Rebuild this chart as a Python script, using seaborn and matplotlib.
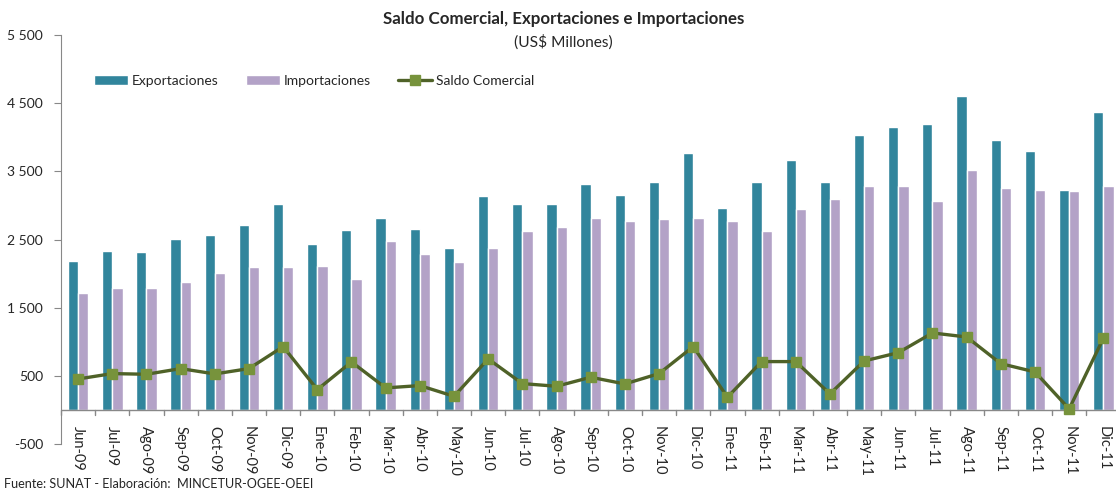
import numpy as np
import pandas as pd
import matplotlib
matplotlib.use("Agg")
import matplotlib.pyplot as plt
import seaborn as sns

# ── Data ────────────────────────────────────────────────────────────────────
MONTHS = ["Jun-09", "Jul-09", "Ago-09", "Sep-09", "Oct-09", "Nov-09", "Dic-09",
          "Ene-10", "Feb-10", "Mar-10", "Abr-10", "May-10", "Jun-10", "Jul-10",
          "Ago-10", "Sep-10", "Oct-10", "Nov-10", "Dic-10", "Ene-11", "Feb-11",
          "Mar-11", "Abr-11", "May-11", "Jun-11", "Jul-11", "Ago-11", "Sep-11",
          "Oct-11", "Nov-11", "Dic-11"]
EXPORTS = [2184, 2335, 2316, 2507, 2566, 2712, 3020, 2434, 2639, 2812, 2658,
           2375, 3131, 3020, 3020, 3308, 3152, 3342, 3763, 2961, 3342, 3665,
           3342, 4027, 4144, 4198, 4598, 3953, 3797, 3229, 4369]
IMPORTS = [1711, 1788, 1788, 1881, 2013, 2091, 2091, 2111, 1920, 2478, 2282,
           2164, 2375, 2624, 2678, 2810, 2775, 2795, 2810, 2775, 2624, 2947,
           3093, 3288, 3288, 3058, 3518, 3249, 3229, 3210, 3288]
SALDO = [454, 533, 523, 606, 528, 606, 929, 298, 704, 323, 357, 200, 748, 386,
         347, 479, 381, 533, 929, 186, 709, 709, 235, 718, 840, 1129, 1070,
         679, 557, 15, 1051]
Y_TICKS = [-500, 500, 1500, 2500, 3500, 4500, 5500]

BLUE, PURPLE = "#31859C", "#B3A2C7"
LINE, MARK = "#4F6228", "#77933C"

df = pd.DataFrame({"Mes": MONTHS * 2,
                   "Valor": EXPORTS + IMPORTS,
                   "Serie": ["Exportaciones"] * len(MONTHS) + ["Importaciones"] * len(MONTHS)})

sns.set_style("white")
plt.rcParams["font.family"] = ["Lato", "DejaVu Sans"]

fig = plt.figure(figsize=(11.16, 4.93), dpi=100)
ax = fig.add_axes([61 / 1116, 49 / 493, 1055 / 1116, 409 / 493])

sns.barplot(data=df, x="Mes", y="Valor", hue="Serie", order=MONTHS,
            palette={"Exportaciones": BLUE, "Importaciones": PURPLE},
            width=0.6, gap=0, saturation=1, ax=ax, legend=True)

x = np.arange(len(MONTHS))
ax.plot(x, SALDO, color=LINE, linewidth=2.4, marker="s", markersize=7,
        markerfacecolor=MARK, markeredgecolor=MARK, label="Saldo Comercial",
        zorder=5)

ax.set_ylim(-500, 5500)
ax.set_xlim(-0.5, 30.37)
ax.set_yticks(Y_TICKS)
ax.set_yticklabels([f"{v:,}".replace(",", " ") for v in Y_TICKS], fontsize=10)
ax.set_xticks([])
ax.set_xlabel("")
ax.set_ylabel("")

for s in ["top", "right", "bottom"]:
    ax.spines[s].set_visible(False)
ax.spines["left"].set_color("#888888")
ax.tick_params(axis="y", length=5, color="#888888", left=True, pad=8)

# zero line with ticks between categories, labels below
ax.axhline(0, color="#888888", linewidth=1, zorder=1)
for b in np.arange(-0.5, len(MONTHS), 1.0):
    ax.plot([b, b], [0, -80], color="#888888", linewidth=1, clip_on=False)
for i, m in enumerate(MONTHS):
    ax.text(i, -240, m, rotation=-90, ha="center", va="top", fontsize=10.5)

handles, labels = ax.get_legend_handles_labels()
ax.legend(handles, labels, loc="center left", bbox_to_anchor=(0.026, 0.887),
          borderaxespad=0, ncol=3, frameon=False, fontsize=10,
          handlelength=2.45, handletextpad=0.25, columnspacing=2.0)

fig.text(0.505, 0.962, "Saldo Comercial, Exportaciones e Importaciones",
         ha="center", va="center", fontsize=12.2, fontweight="bold")
fig.text(0.505, 0.915, "(US$ Millones)", ha="center", va="center", fontsize=11.2)
fig.text(0.004, 0.018, "Fuente: SUNAT - Elaboración:  MINCETUR-OGEE-OEEI",
         ha="left", va="center", fontsize=9.1)

fig.savefig("out.png", dpi=100)
